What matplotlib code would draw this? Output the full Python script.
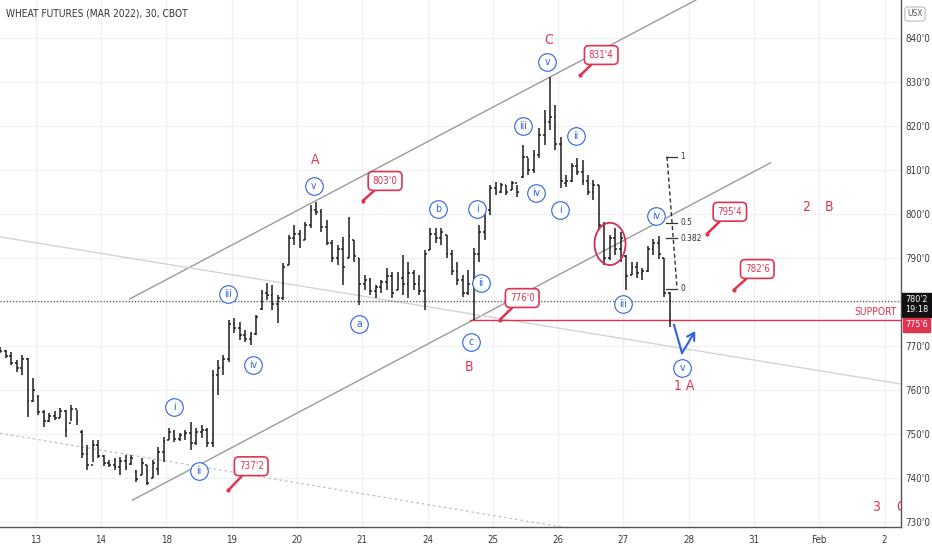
import matplotlib
matplotlib.use("Agg")
import matplotlib.pyplot as plt
from matplotlib import font_manager
from matplotlib.patches import Ellipse
import numpy as np

# prefer a condensed face, like the TradingView screenshot
cond_path = font_manager.findfont(font_manager.FontProperties(family="DejaVu Sans", stretch="condensed"))
HAS_COND = "Condensed" in cond_path
plt.rcParams["font.family"] = ["DejaVu Sans"]
if HAS_COND:
    plt.rcParams["font.stretch"] = "condensed"
SCALE = 1.0 if HAS_COND else 0.85

TITLE = "WHEAT FUTURES (MAR 2022), 30, CBOT"
DAY_LABELS = ["13", "14", "18", "19", "20", "21", "24", "25", "26", "27", "28", "31", "Feb", "2"]
PRICE_TICKS = [730, 740, 750, 760, 770, 780, 790, 800, 810, 820, 830, 840]
BARS_PER_DAY = 12
FIRST_BAR = -6.5

# 30 min bars (sampled), cents
opens = [769.0, 768.8, 767.8, 766.2, 765.0, 767.0, 757.5, 758.5, 755.0, 753.0,
         754.2, 753.6, 755.2, 752.5, 755.8, 750.5, 745.5, 743.0, 747.5, 745.0,
         743.5, 743.0, 742.5, 744.0, 743.2, 741.5, 740.7, 743.0, 740.0, 742.0,
         746.0, 748.6, 750.5, 749.0, 749.8, 750.2, 748.0, 750.5, 751.0, 748.0,
         763.5, 765.0, 767.0, 775.0, 774.0, 772.5, 771.5, 772.8, 778.5, 782.0,
         781.5, 779.5, 781.0, 788.4, 794.5, 795.5, 794.1, 797.5, 801.0, 800.5,
         797.0, 793.5, 790.0, 792.0, 790.0, 794.1, 790.0, 784.0, 785.0, 782.5,
         783.5, 784.5, 786.0, 782.7, 785.5, 784.0, 786.5, 784.0, 782.5, 791.8,
         795.5, 794.5, 795.2, 791.0, 787.0, 785.0, 782.0, 784.0, 791.0, 796.0,
         801.0, 806.0, 805.0, 806.5, 805.5, 807.0, 808.5, 813.0, 810.0, 813.5,
         818.0, 821.0, 822.0, 816.0, 807.0, 807.5, 811.0, 809.5, 807.5, 805.0,
         806.5, 797.5, 790.0, 794.5, 792.0, 790.5, 786.1, 788.0, 786.5, 787.0,
         792.0, 793.5, 790.0, 782.0]
highs = [769.8, 769.0, 768.6, 766.8, 768.0, 767.3, 762.7, 758.9, 755.5, 754.8,
         755.2, 756.0, 755.5, 756.6, 755.5, 750.9, 747.5, 748.6, 748.6, 745.2,
         744.1, 744.5, 744.8, 745.2, 745.2, 741.8, 744.5, 743.0, 744.1, 747.0,
         749.3, 751.4, 750.9, 750.2, 750.9, 752.7, 751.4, 752.0, 751.4, 764.5,
         766.8, 768.0, 775.9, 776.4, 775.5, 773.6, 773.2, 777.0, 782.7, 784.3,
         783.9, 781.6, 788.9, 795.2, 797.5, 796.4, 798.2, 802.0, 802.7, 801.1,
         798.6, 794.1, 793.0, 794.8, 799.3, 794.1, 790.0, 786.1, 785.5, 783.9,
         785.0, 787.7, 786.8, 786.8, 790.7, 789.1, 787.3, 786.1, 791.8, 796.8,
         796.8, 796.8, 795.2, 791.8, 789.1, 786.1, 787.3, 792.3, 797.5, 802.0,
         806.6, 807.3, 807.0, 806.6, 807.5, 806.6, 815.7, 812.7, 814.5, 819.5,
         823.6, 831.1, 824.8, 817.5, 808.9, 811.6, 812.7, 812.3, 808.9, 807.7,
         806.6, 798.2, 795.2, 796.8, 795.9, 790.7, 789.1, 789.1, 787.7, 792.7,
         794.3, 795.0, 790.0, 782.3]
lows = [768.4, 767.3, 765.7, 764.1, 763.4, 753.9, 757.3, 754.3, 751.6, 752.7,
        753.2, 753.6, 749.3, 753.0, 752.0, 744.5, 741.8, 743.6, 744.5, 742.7,
        742.5, 741.8, 740.7, 741.8, 743.0, 739.1, 740.7, 738.4, 740.0, 740.7,
        743.6, 748.6, 748.2, 748.4, 748.6, 746.4, 747.5, 749.1, 747.0, 747.0,
        758.9, 763.4, 766.4, 773.0, 771.4, 770.9, 770.2, 772.5, 778.2, 780.5,
        778.2, 775.2, 780.5, 788.4, 793.0, 792.3, 794.1, 796.8, 799.8, 795.9,
        793.0, 789.1, 788.4, 783.9, 790.0, 789.1, 779.3, 782.7, 781.6, 780.9,
        782.0, 782.7, 780.9, 782.7, 781.6, 780.9, 782.7, 781.6, 778.2, 791.8,
        793.4, 793.0, 790.0, 786.1, 783.9, 781.1, 781.6, 775.9, 789.1, 794.1,
        799.8, 804.3, 804.8, 804.3, 805.5, 803.9, 808.2, 808.9, 809.3, 812.7,
        815.7, 819.1, 814.5, 805.9, 806.1, 807.3, 808.9, 806.6, 804.3, 803.2,
        796.4, 788.4, 789.5, 790.7, 789.1, 782.7, 786.1, 785.5, 785.0, 786.8,
        790.7, 789.8, 781.1, 774.3]
closes = [768.8, 767.8, 766.2, 765.0, 767.0, 757.5, 760.0, 755.0, 753.0, 754.2,
          753.6, 755.2, 751.0, 755.8, 753.0, 745.5, 743.0, 747.5, 745.0, 743.5,
          743.0, 742.5, 744.0, 742.5, 744.5, 739.8, 743.5, 739.0, 743.5, 746.0,
          748.5, 750.5, 749.0, 749.8, 750.2, 748.0, 750.5, 751.0, 748.0, 763.5,
          765.0, 767.0, 775.0, 774.0, 772.5, 771.5, 772.8, 776.5, 782.0, 781.5,
          779.5, 781.0, 788.0, 794.5, 795.5, 794.0, 797.5, 801.0, 800.5, 797.0,
          793.5, 790.0, 792.0, 788.0, 795.0, 790.5, 784.0, 785.0, 782.5, 783.5,
          784.5, 786.0, 782.0, 785.5, 784.0, 786.5, 784.0, 782.5, 791.0, 795.5,
          794.5, 795.8, 791.0, 787.0, 785.0, 782.0, 784.0, 791.0, 796.0, 801.0,
          806.0, 805.0, 806.5, 805.0, 807.0, 805.0, 813.0, 810.0, 813.5, 818.0,
          821.0, 822.0, 816.0, 807.5, 807.5, 811.0, 809.5, 807.5, 805.0, 806.5,
          797.5, 790.0, 794.5, 792.0, 794.5, 786.0, 788.0, 786.5, 787.0, 792.0,
          793.5, 791.0, 782.0, 780.2]

LAST_PRICE = 780.2
SUPPORT = 776.0

# elliott wave labels: (text, day, price)
minor_waves = [("i", 2.12, 756.1), ("ii", 2.50, 741.6), ("iii", 2.95, 781.8),
               ("iv", 3.33, 765.7), ("v", 4.26, 806.4), ("a", 4.95, 775.0),
               ("b", 6.16, 801.1), ("c", 6.67, 770.9), ("i", 6.76, 801.1),
               ("ii", 6.82, 784.3), ("iii", 7.46, 820.0), ("iv", 7.66, 804.8),
               ("v", 7.83, 834.5), ("i", 8.03, 800.9), ("ii", 8.27, 817.7),
               ("iii", 8.99, 779.5), ("iv", 9.50, 799.5), ("v", 9.90, 765.0)]
major_waves = [("A", 4.28, 812.3), ("C", 7.86, 839.5), ("B", 6.64, 765.2),
               ("1 A", 9.93, 760.9), ("2", 11.80, 801.6), ("B", 12.15, 801.6),
               ("3", 12.87, 733.4), ("C", 13.24, 733.4)]

# price callouts: (label, price, box day, box price, tip day)
callouts = [("803'0", 803.0, 5.35, 807.5, 5.01),
            ("831'4", 831.5, 8.66, 836.1, 8.34),
            ("776'0", 776.0, 7.45, 780.9, 7.11),
            ("737'2", 737.25, 3.30, 742.7, 2.95),
            ("795'4", 795.5, 10.63, 800.5, 10.28),
            ("782'6", 782.75, 11.05, 787.5, 10.69)]

# trend lines: (day0, price0, day1, price1)
channel_top = (1.44, 780.7, 10.11, 848.6)
channel_bottom = (1.48, 735.0, 11.25, 811.6)
long_line = (-0.55, 794.8, 13.24, 761.4)
old_line = (-0.55, 750.2, 8.06, 728.9)

fib_levels = [(1, 813.0), (0.5, 798.0), (0.382, 794.5), (0, 783.0)]

RED = "#e0334f"
BLUE = "#2f62e0"
BAR = "#1c1c1c"

fig = plt.figure(figsize=(9.32, 5.5), dpi=100)
ax = fig.add_axes([0, 23 / 550, 901 / 932, 527 / 550])
ax.set_xlim(-0.547, 13.251)
ax.set_ylim(728.9, 848.6)

ax.set_xticks(range(len(DAY_LABELS)))
ax.set_xticklabels(DAY_LABELS)
ax.set_yticks(PRICE_TICKS)
ax.set_yticklabels(["" if p == 780 else f"{p}'0" for p in PRICE_TICKS])
ax.yaxis.tick_right()
ax.tick_params(axis="both", length=0, colors="#3a3a3a")
ax.tick_params(axis="y", pad=3, labelsize=7 * SCALE)
ax.tick_params(axis="x", pad=6, labelsize=7 * SCALE)
ax.grid(True, color="#f0f1f3", lw=1)
ax.set_axisbelow(True)
for side in ["top", "left"]:
    ax.spines[side].set_visible(False)
for side in ["right", "bottom"]:
    ax.spines[side].set_color("#555555")
    ax.spines[side].set_linewidth(1)

# trend lines
for (d0, p0, d1, p1), col, ls in [(channel_top, "#9a9a9a", "-"), (channel_bottom, "#9a9a9a", "-"),
                                  (long_line, "#d4d4d4", "-"), (old_line, "#c8c8c8", (0, (2, 2)))]:
    ax.plot([d0, d1], [p0, p1], color=col, lw=1, ls=ls, zorder=1)

# price line + support
ax.axhline(LAST_PRICE, color="#555555", lw=0.9, ls=(0, (1, 1.5)), zorder=1)
ax.plot([6.65, 13.251], [SUPPORT, SUPPORT], color=RED, lw=1, zorder=1)
ax.text(13.19, SUPPORT + 0.6, "SUPPORT", color=RED, fontsize=7.5 * SCALE, ha="right", va="bottom")

# OHLC bars
x = (np.arange(len(closes)) + FIRST_BAR) / BARS_PER_DAY
tick = 0.028
ax.vlines(x, lows, highs, color=BAR, lw=1.1, zorder=3)
ax.hlines(opens, x - tick, x, color=BAR, lw=1.1, zorder=3)
ax.hlines(closes, x, x + tick, color=BAR, lw=1.1, zorder=3)

# wave labels
for txt, d, p in minor_waves:
    ax.scatter(d, p, s=160, facecolor="white", edgecolor=BLUE, lw=0.8, zorder=5)
    ax.text(d, p, txt, color=BLUE, fontsize=7.5, ha="center", va="center", zorder=6)
for txt, d, p in major_waves:
    ax.text(d, p, txt, color=RED, fontsize=10, ha="center", va="center", zorder=6, clip_on=True)

# callouts
for label, price, bd, bp, td in callouts:
    ax.annotate(label, xy=(td, price), xytext=(bd, bp), ha="center", va="center",
                fontsize=7 * SCALE, color=RED, zorder=7,
                bbox=dict(boxstyle="round,pad=0.45", fc="white", ec=RED, lw=1.2),
                arrowprops=dict(arrowstyle="-", color=RED, lw=1.8, shrinkA=0, shrinkB=0))
    ax.plot(td, price, "o", color=RED, ms=2, zorder=7)

# circle around the channel break
ax.add_patch(Ellipse((8.795, 793.2), 0.475, 9.6, fill=False, ec="#d0304f", lw=1.3, zorder=6))

# fibonacci retracement
fib_top = fib_levels[0][1]
fib_bottom = fib_levels[-1][1]
ax.plot([9.668, 9.82], [fib_top, fib_bottom + 0.3], color="#333333", lw=1, ls=(0, (3, 2)), zorder=4)
for lvl, p in fib_levels:
    ax.plot([9.655, 9.82], [p, p], color="#333333", lw=0.9, zorder=4)
    ax.text(9.87, p, f"{lvl:g}", fontsize=6, color="#333333", ha="left", va="center")

# blue arrow
ax.plot([9.775, 9.897], [774.8, 768.4], color=BLUE, lw=1.5, zorder=6)
ax.annotate("", xy=(10.10, 773.4), xytext=(9.897, 768.4),
            arrowprops=dict(arrowstyle="->,head_length=0.5,head_width=0.3", color=BLUE, lw=1.5,
                            shrinkA=0, shrinkB=0), zorder=6)

# right scale labels
yt = ax.get_yaxis_transform()
ax.text(1.017, LAST_PRICE - 0.8, "780'2\n19:18", transform=yt, fontsize=6.5 * SCALE, color="white",
        ha="center", va="center", linespacing=1.1, clip_on=False, zorder=10,
        bbox=dict(boxstyle="square,pad=0.3", fc="#111111", ec="#111111"))
ax.text(1.017, 774.8, "775'6", transform=yt, fontsize=6.5 * SCALE, color="white",
        ha="center", va="center", clip_on=False, zorder=10,
        bbox=dict(boxstyle="square,pad=0.25", fc=RED, ec=RED))

fig.text(6 / 932, 1 - 14 / 550, TITLE, fontsize=7.3 * SCALE, color="#333333", ha="left", va="center")
fig.text(915 / 932, 1 - 14 / 550, "USX", fontsize=6 * SCALE, color="#555555", ha="center", va="center",
         bbox=dict(boxstyle="round,pad=0.3", fc="white", ec="#bbbbbb", lw=0.8))

fig.savefig("out.png", dpi=100)
